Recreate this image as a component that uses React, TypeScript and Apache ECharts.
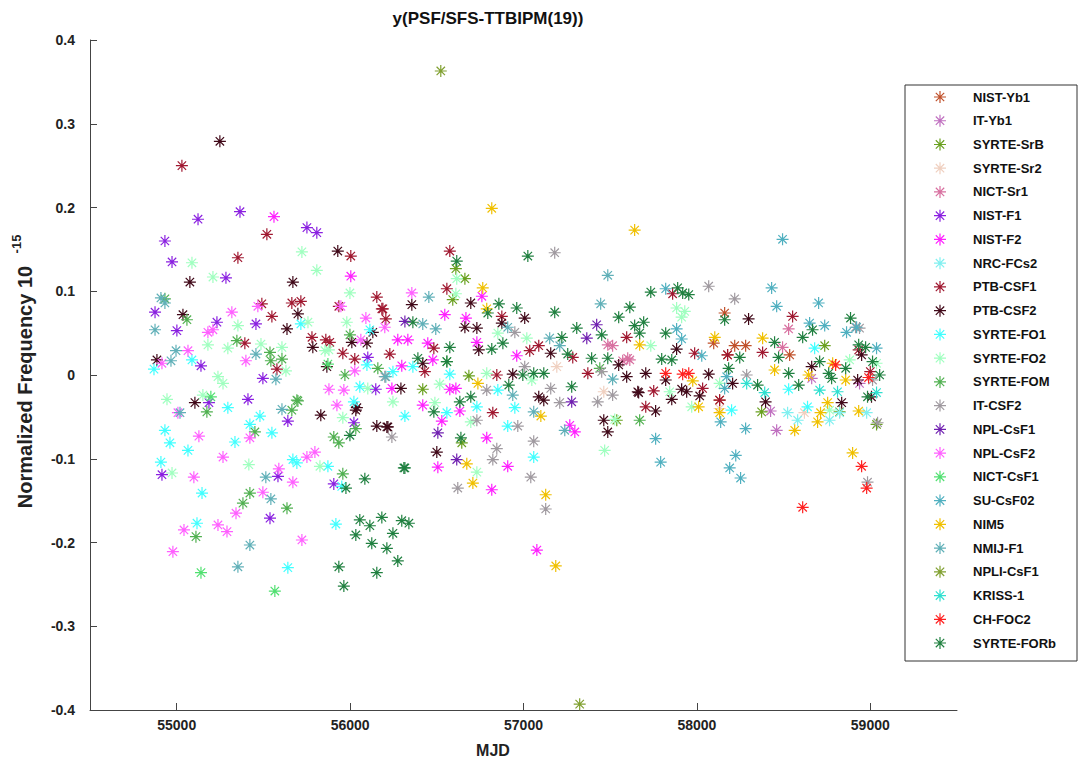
import React, { useEffect, useRef } from "react";
import * as echarts from "echarts";

const seriesNames = [
  "NIST-Yb1", "IT-Yb1", "SYRTE-SrB", "SYRTE-Sr2", "NICT-Sr1", "NIST-F1", "NIST-F2", "NRC-FCs2",
  "PTB-CSF1", "PTB-CSF2", "SYRTE-FO1", "SYRTE-FO2", "SYRTE-FOM", "IT-CSF2", "NPL-CsF1", "NPL-CsF2",
  "NICT-CsF1", "SU-CsF02", "NIM5", "NMIJ-F1", "NPLI-CsF1", "KRISS-1", "CH-FOC2", "SYRTE-FORb",
];

const seriesColors = [
  "#c0502a", "#c070c0", "#6aa020", "#f0d0c0", "#d870a0", "#8a20e0", "#ff20ff", "#80f0f0",
  "#a01830", "#400818", "#40ffff", "#a0ffc0", "#50b050", "#a09aa0", "#7020b0", "#ff60ff",
  "#50e070", "#50b0c0", "#f0c000", "#60b0b8", "#80a030", "#30e0d0", "#ff2020", "#208040",
];

const xTicks = [55000, 56000, 57000, 58000, 59000];

const nistYb1 = [[58160, 0.074], [58218, 0.035], [58281, 0.035], [58097, 0.038], [58131, -0.03], [58177, 0.024], [58535, 0.024]];
const itYb1 = [[58460, -0.066], [58425, -0.043], [58938, -0.01], [58662, -0.004]];
const syrteSrB = [[56610, 0.127], [56662, 0.115], [56592, 0.09], [56685, -0.001], [56419, -0.017], [56644, -0.081], [57538, -0.054], [58737, 0.035], [58373, -0.044], [59036, -0.059], [58823, -0.044]];
const syrteSr2 = [[57192, 0.01], [57463, -0.02], [58131, -0.04], [58620, -0.045]];
const nictSr1 = [[58529, 0.055], [58494, 0.033], [57613, 0.018], [57486, 0.036], [57514, 0.035], [57572, 0.017], [57601, 0.02]];
const nistF1 = [[54932, 0.16], [54973, 0.135], [55123, 0.186], [55365, 0.195], [55284, 0.116], [55751, 0.176], [55808, 0.17], [54875, 0.075], [55001, 0.053], [55232, 0.063], [55457, 0.061], [55140, 0.011], [55497, -0.004], [55411, -0.029], [56102, 0.021], [56148, -0.017], [55186, -0.033], [54915, -0.119], [55584, -0.121], [55538, -0.171], [55906, -0.13], [56022, -0.057], [55641, -0.055]];
const nistF2 = [[55561, 0.189], [56004, 0.118], [56760, 0.094], [56546, 0.072], [56668, 0.068], [56275, 0.042], [56333, 0.042], [56448, 0.038], [56477, 0.018], [56298, 0.011], [56731, 0.039], [56961, 0.023], [56241, -0.016], [56575, -0.017], [56610, -0.016], [56419, -0.036], [56529, -0.055], [56788, -0.075], [56633, -0.043], [56506, -0.11], [56909, -0.109], [57296, -0.068], [57267, -0.06], [56817, -0.137], [57077, -0.209]];
const nrcFCs2 = [[58523, -0.045], [58581, -0.054], [58765, -0.054], [58823, -0.045], [58979, -0.045]];
const ptbCsf1 = [[55030, 0.25], [55520, 0.168], [55353, 0.14], [56004, 0.142], [56154, 0.093], [56183, 0.079], [56206, 0.067], [55664, 0.086], [55716, 0.088], [55491, 0.085], [55549, 0.07], [55780, 0.045], [55860, 0.042], [55883, 0.039], [55393, 0.038], [55958, 0.026], [56027, 0.019], [55578, 0.007], [55935, 0.082], [56575, 0.148], [56558, 0.103], [56189, 0.079], [56229, 0.025], [56483, 0.032], [56846, 0.0], [56875, 0.07], [57036, 0.029], [57088, 0.035], [57371, 0.002], [57595, 0.045], [56823, -0.045], [57284, 0.021], [56431, 0.004], [57860, 0.097], [58552, 0.07], [57987, 0.026], [58033, -0.016], [57751, -0.019], [57705, -0.038], [58379, 0.027], [58177, 0.024], [58131, -0.03], [58933, 0.03], [59000, 0.004]];
const ptbCsf2 = [[55249, 0.279], [55929, 0.148], [55076, 0.111], [55670, 0.111], [55036, 0.072], [55699, 0.073], [55636, 0.055], [55785, 0.033], [56010, 0.039], [56097, 0.038], [56131, 0.051], [54886, 0.018], [55866, 0.01], [55105, -0.033], [56039, -0.039], [55831, -0.048], [56033, -0.042], [56154, -0.061], [56218, -0.062], [56356, 0.084], [56696, 0.086], [56662, 0.057], [56731, 0.056], [56875, 0.062], [57007, 0.068], [56742, 0.03], [56938, 0.001], [56293, -0.016], [56419, 0.014], [57088, -0.026], [57117, -0.03], [56500, -0.092], [56212, -0.062], [57157, 0.026], [57549, 0.012], [57595, -0.002], [57463, -0.054], [57486, -0.068], [57659, -0.02], [57883, 0.031], [57705, 0.002], [57820, -0.006], [57664, -0.021], [57762, -0.043], [57855, -0.029], [57912, -0.017], [57941, -0.02], [58016, -0.025], [58068, 0.001], [58206, -0.01], [58298, 0.067], [58396, -0.032], [58662, 0.01], [58835, -0.033], [58927, -0.006], [58950, 0.024], [59007, -0.026]];
const syrteFO1 = [[55716, 0.061], [56114, 0.054], [55088, 0.018], [54869, 0.007], [56097, 0.012], [56056, -0.014], [56022, -0.032], [55295, -0.039], [55480, -0.049], [55422, -0.059], [54932, -0.066], [54961, -0.081], [55065, -0.09], [55336, -0.08], [55549, -0.069], [54909, -0.104], [55146, -0.141], [55117, -0.177], [55670, -0.101], [55693, -0.105], [55872, -0.109], [55952, -0.133], [55918, -0.178], [55641, -0.23], [56247, 0.004], [56362, 0.01], [56575, 0.001], [56852, -0.018], [56950, -0.039], [56558, -0.045], [56316, -0.049], [56909, -0.061], [57059, -0.098], [56731, -0.038], [58679, 0.032], [58529, -0.017], [58200, -0.042], [58638, -0.038]];
const syrteFO2 = [[55088, 0.134], [55209, 0.117], [55722, 0.147], [55808, 0.125], [55999, 0.098], [55353, 0.059], [55180, 0.036], [55295, 0.032], [55486, 0.037], [55607, 0.033], [55855, 0.029], [55981, 0.063], [55238, -0.002], [55267, -0.01], [55630, 0.005], [54944, -0.029], [55151, -0.024], [55757, 0.063], [55878, 0.03], [56102, -0.016], [54973, -0.117], [55416, -0.107], [55826, -0.109], [55958, -0.051], [56615, 0.115], [56610, 0.097], [56852, 0.05], [57019, 0.044], [56788, 0.002], [56517, -0.011], [56489, -0.033], [57048, -0.006], [56247, -0.032], [56696, -0.056], [56731, -0.116], [57468, -0.09], [57526, -0.053], [57883, 0.08], [57930, 0.076], [57912, 0.069], [57734, 0.035], [58131, -0.01], [57843, -0.02], [57970, -0.038], [59036, 0.014], [58881, 0.018], [58765, -0.042]];
const syrteFOM = [[55059, 0.066], [54932, 0.091], [55347, 0.041], [55538, 0.027], [55607, 0.019], [55543, 0.017], [55999, 0.048], [55970, 0.0], [56160, 0.008], [55693, -0.03], [55174, -0.044], [55664, -0.042], [55699, -0.031], [55451, -0.068], [55906, -0.074], [55935, -0.081], [56033, -0.064], [55958, -0.118], [55422, -0.141], [55382, -0.153], [55636, -0.159], [55111, -0.193], [56558, 0.016], [57440, 0.008], [57670, -0.054]];
const itCsf2 = [[57180, 0.146], [56950, 0.051], [57007, 0.01], [56788, -0.018], [57157, -0.016], [57209, -0.033], [57451, 0.004], [57514, -0.024], [57428, -0.032], [56731, -0.054], [56967, -0.061], [57059, -0.079], [56846, -0.088], [56823, -0.101], [57042, -0.122], [56241, -0.074], [56200, -0.002], [56621, -0.135], [57128, -0.16], [58068, 0.106], [58218, 0.091], [58287, 0.0], [58915, 0.057], [58938, 0.056], [59013, -0.006], [59042, -0.057], [58984, -0.128]];
const nplCsF1 = [[56316, 0.064], [56506, -0.069], [57278, -0.032], [57365, 0.044], [57422, 0.06], [56615, -0.101]];
const nplCsF2 = [[55318, 0.075], [55468, 0.082], [55947, 0.082], [56091, 0.068], [56200, 0.057], [55180, 0.051], [55209, 0.054], [55065, 0.029], [55399, 0.017], [56062, 0.042], [56027, 0.005], [55878, -0.017], [55964, -0.018], [55924, -0.036], [54915, 0.014], [55007, -0.045], [55128, -0.073], [55267, -0.098], [55422, -0.075], [55099, -0.122], [55589, -0.112], [55670, -0.128], [55751, -0.098], [55797, -0.092], [55497, -0.14], [55342, -0.165], [55042, -0.185], [55238, -0.179], [55290, -0.187], [54978, -0.211], [55722, -0.197], [56356, 0.098]];
const nictCsF1 = [[55566, -0.258], [55140, -0.236], [55872, 0.013], [55197, -0.026]];
const suCsF02 = [[58494, 0.162], [58431, 0.104], [58460, 0.082], [58702, 0.086], [58737, 0.059], [58650, 0.062], [58863, 0.051], [58921, 0.057], [59036, 0.032], [57820, 0.103], [57883, 0.055], [57912, 0.043], [58028, 0.023], [58172, -0.002], [58160, -0.016], [58137, -0.056], [58281, -0.064], [57762, -0.076], [57791, -0.104], [58224, -0.096], [58189, -0.111], [58252, -0.123]];
const nim5 = [[56817, 0.199], [57641, 0.173], [56765, 0.104], [56788, 0.079], [56737, -0.01], [57100, -0.049], [56673, -0.106], [56708, -0.129], [57128, -0.143], [57186, -0.228], [58103, 0.045], [57670, 0.036], [57976, -0.007], [58010, -0.038], [58131, -0.045], [58379, 0.044], [58448, 0.006], [58644, 0.0], [58754, -0.033], [58713, -0.045], [58696, -0.056], [58564, -0.066], [58783, 0.014], [58858, -0.006], [58933, -0.043], [58898, -0.093]];
const nmijF1 = [[54909, 0.092], [54932, 0.086], [54875, 0.054], [54996, 0.029], [54967, 0.017], [55457, 0.025], [55572, -0.005], [56206, -0.002], [55019, -0.045], [55607, -0.041], [55514, -0.122], [55543, -0.148], [55422, -0.203], [55353, -0.229], [56454, 0.093], [56419, 0.061], [56494, 0.055], [56909, 0.057], [57151, 0.044], [57209, 0.035], [57486, 0.119], [57445, 0.085], [57514, -0.005], [56938, -0.024], [57059, -0.044], [57238, -0.066]];
const npliCsF1 = [[56523, 0.363], [57324, -0.393]];
const kriss1 = [[58391, -0.021], [58287, -0.01], [59036, -0.021], [58708, -0.018], [58811, -0.02]];
const chFoc2 = [[57820, 0.002], [57918, 0.001], [57953, 0.002], [58610, -0.158], [58950, -0.109], [58979, -0.135], [58800, 0.012], [58990, -0.003]];
const syrteFORb = [[55999, -0.072], [56085, -0.124], [55976, -0.135], [56056, -0.173], [56114, -0.18], [56183, -0.17], [56033, -0.191], [56125, -0.201], [56212, -0.207], [56247, -0.189], [56275, -0.222], [56298, -0.174], [56339, -0.177], [56310, -0.111], [55935, -0.229], [56154, -0.236], [55964, -0.252], [56615, 0.136], [57025, 0.142], [56858, 0.085], [56961, 0.08], [57180, 0.075], [57307, 0.056], [56362, 0.063], [56575, 0.033], [56391, 0.02], [56558, 0.016], [56881, 0.038], [56817, 0.031], [56996, 0.0], [57059, 0.002], [57117, 0.002], [57221, 0.045], [57255, 0.025], [57393, 0.02], [57486, 0.02], [57549, 0.069], [57613, 0.081], [57641, 0.059], [57451, 0.048], [57278, -0.014], [56915, -0.012], [56483, -0.044], [56633, -0.032], [56696, -0.026], [56316, -0.111], [56639, -0.075], [56794, 0.074], [57734, 0.099], [57889, 0.104], [57918, 0.098], [57953, 0.096], [57693, 0.063], [57670, 0.05], [57820, 0.05], [57797, 0.019], [57855, 0.018], [58160, 0.066], [58247, 0.021], [58183, 0.008], [58667, 0.054], [58610, 0.045], [58448, 0.039], [58471, 0.021], [58587, -0.012], [58350, -0.012], [58777, -0.004], [58858, 0.008], [58933, 0.036], [58973, 0.033], [59013, 0.016], [59054, 0.0], [58886, 0.068], [58984, -0.026], [58529, 0.002], [58708, 0.016], [58760, 0.002]];

const seriesData = [
  nistYb1, itYb1, syrteSrB, syrteSr2, nictSr1, nistF1, nistF2, nrcFCs2,
  ptbCsf1, ptbCsf2, syrteFO1, syrteFO2, syrteFOM, itCsf2, nplCsF1, nplCsF2,
  nictCsF1, suCsF02, nim5, nmijF1, npliCsF1, kriss1, chFoc2, syrteFORb,
];

const STAR = "path://M5,0L5,10M0,5L10,5M1.5,1.5L8.5,8.5M1.5,8.5L8.5,1.5";
const STAR_D = "M0,-6L0,6M-6,0L6,0M-4.2,-4.2L4.2,4.2M-4.2,4.2L4.2,-4.2";
const FONT = "Liberation Sans, Arial, sans-serif";

let registered = false;

export default function App() {
  const ref = useRef<HTMLDivElement>(null);
  useEffect(() => {
    if (!ref.current) return;
    if (!registered) {
      echarts.graphic.registerShape("star8", (echarts.graphic as any).extendPath(STAR_D, {}));
      registered = true;
    }
    const chart = echarts.init(ref.current, undefined, { renderer: "svg" });
    const legendTop = 90;
    const legendStep = 23.74;
    const legendGraphics: any[] = [];
    seriesNames.forEach((name, i) => {
      const cy = legendTop + 7 + i * legendStep;
      legendGraphics.push({
        type: "star8",
        x: 940,
        y: cy,
        style: { fill: "none", stroke: seriesColors[i], lineWidth: 1.2 },
        silent: true,
      });
      legendGraphics.push({
        type: "text",
        x: 973,
        y: cy,
        style: { text: name, font: `bold 13px ${FONT}`, fill: "#111", textVerticalAlign: "middle" },
        silent: true,
      });
    });
    chart.setOption({
      animation: false,
      backgroundColor: "#fff",
      grid: { left: 90, top: 40, width: 867, height: 670, containLabel: false },
      xAxis: {
        type: "value",
        min: 54500,
        max: 59500,
        axisLine: { show: true, onZero: false, lineStyle: { color: "#444", width: 1 } },
        axisTick: { show: true, inside: true, length: 7, customValues: xTicks, lineStyle: { color: "#444" } },
        axisLabel: {
          customValues: xTicks, color: "#222", fontFamily: FONT, fontWeight: "bold", fontSize: 14, margin: 8,
          formatter: (v: number) => String(Math.round(v)),
        },
        splitLine: { show: false },
      },
      yAxis: {
        type: "value",
        min: -0.4,
        max: 0.4,
        interval: 0.1,
        axisLine: { show: true, onZero: false, lineStyle: { color: "#444", width: 1 } },
        axisTick: { show: true, inside: true, length: 7, lineStyle: { color: "#444" } },
        axisLabel: {
          color: "#222", fontFamily: FONT, fontWeight: "bold", fontSize: 14, margin: 15,
          formatter: (v: number) => String(Math.round(v * 10) / 10),
        },
        splitLine: { show: false },
      },
      graphic: [
        { type: "rect", shape: { x: 905, y: 85, width: 172, height: 576 }, style: { fill: "#fff", stroke: "#333", lineWidth: 1 }, silent: true },
        ...legendGraphics,
        { type: "text", x: 488, y: 18, style: { text: "y(PSF/SFS-TTBIPM(19))", font: `bold 17px ${FONT}`, fill: "#111", textAlign: "center", textVerticalAlign: "middle" } },
        { type: "text", x: 493, y: 750, style: { text: "MJD", font: `bold 16px ${FONT}`, fill: "#222", textAlign: "center", textVerticalAlign: "middle" } },
        { type: "text", x: 25, y: 387, rotation: Math.PI / 2, style: { text: "Normalized Frequency 10", font: `bold 20px ${FONT}`, fill: "#222", textAlign: "center", textVerticalAlign: "middle" } },
        { type: "text", x: 16, y: 244, rotation: Math.PI / 2, style: { text: "-15", font: `bold 13px ${FONT}`, fill: "#222", textAlign: "center", textVerticalAlign: "middle" } },
      ],
      series: seriesNames.map((name, i) => ({
        name,
        type: "scatter",
        data: seriesData[i],
        symbol: STAR,
        symbolSize: 12,
        itemStyle: { color: seriesColors[i], borderColor: seriesColors[i], borderWidth: 1.2, opacity: 1 },
        emphasis: { disabled: true },
      })),
    });
    return () => chart.dispose();
  }, []);
  return <div ref={ref} style={{ position: "fixed", left: 0, top: 0, width: 1086, height: 758 }} />;
}
